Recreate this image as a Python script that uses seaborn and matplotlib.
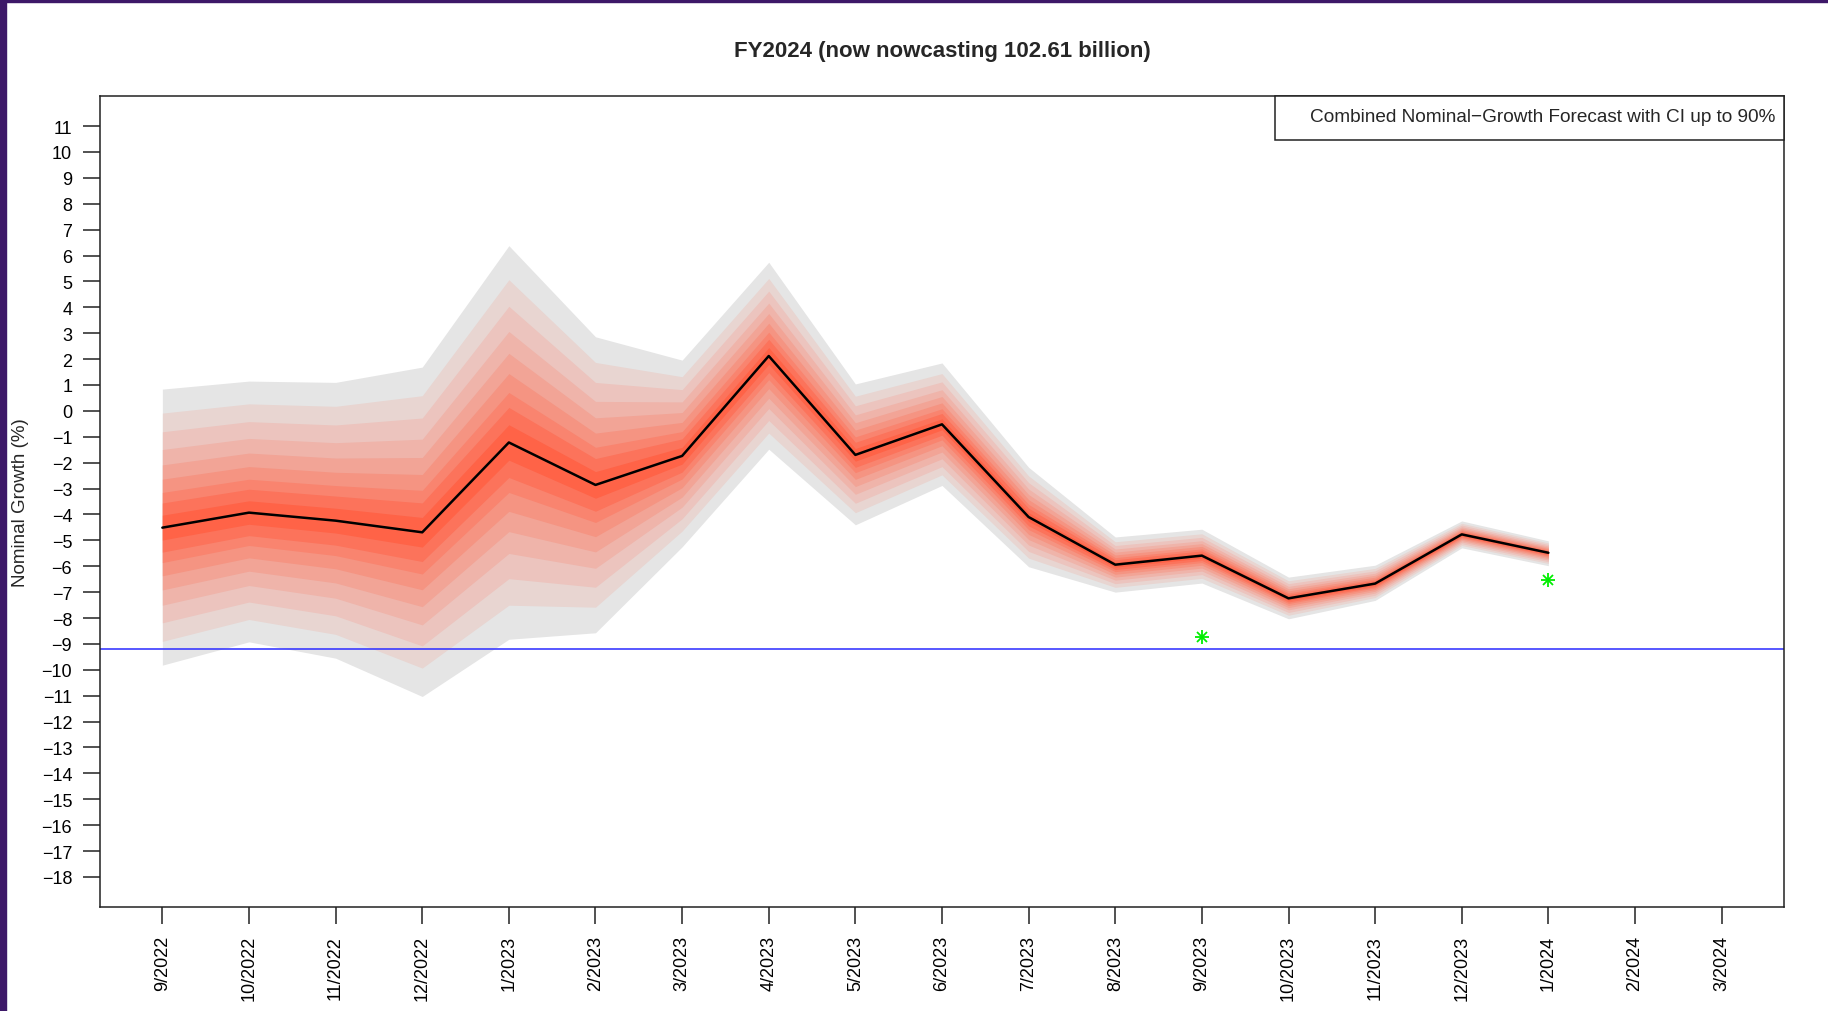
import numpy as np
import pandas as pd
import matplotlib
matplotlib.use("Agg")
import matplotlib.pyplot as plt
import matplotlib.patches as mpatches
import seaborn as sns

# =====================================================
# DATA
# =====================================================

months = [
    "9/2022", "10/2022", "11/2022", "12/2022",
    "1/2023", "2/2023", "3/2023", "4/2023", "5/2023", "6/2023",
    "7/2023", "8/2023", "9/2023", "10/2023", "11/2023", "12/2023",
    "1/2024", "2/2024", "3/2024",
]

# nowcast median, one value per month up to 1/2024
median = [
    -4.51, -3.93, -4.24, -4.69, -1.22, -2.86, -1.74, 2.12, -1.70,
    -0.52, -4.10, -5.94, -5.59, -7.24, -6.67, -4.77, -5.48,
]

# outer edges of the 90% band
upper90 = [
    0.84, 1.15, 1.10, 1.69, 6.38, 2.86, 1.96, 5.74, 1.04,
    1.85, -2.18, -4.87, -4.57, -6.42, -5.96, -4.25, -5.02,
]
lower90 = [
    -9.82, -8.92, -9.55, -11.03, -8.82, -8.57, -5.25, -1.48, -4.40,
    -2.88, -6.02, -7.00, -6.65, -8.03, -7.32, -5.29, -5.98,
]

# CI levels and where each band edge sits, as a share of the 90% half-width
ci_levels = [10, 20, 30, 40, 50, 60, 70, 80, 90]
ci_share = [0.09, 0.178, 0.254, 0.35, 0.453, 0.564, 0.692, 0.827, 1.0]

# released figures (green stars)
obs_months = ["9/2023", "1/2024"]
obs_values = [-8.74, -6.53]

ref_level = -9.2

y_ticks = list(range(-18, 12))

title = "FY2024 (now nowcasting 102.61 billion)"
legend_text = "Combined Nominal\u2212Growth Forecast with CI up to 90%"
y_label = "Nominal Growth (%)"

# =====================================================
# FRAMES
# =====================================================

x_pos = {m: i for i, m in enumerate(months)}

fan = pd.DataFrame({
    "x": np.arange(len(median)),
    "median": median,
    "upper": upper90,
    "lower": lower90,
})

obs = pd.DataFrame({
    "x": [x_pos[m] for m in obs_months],
    "value": obs_values,
})

# =====================================================
# PLOT
# =====================================================

sns.set_theme(style="white")
plt.rcParams["font.family"] = ["Liberation Sans", "DejaVu Sans"]

fig = plt.figure(figsize=(18.28, 10.12), dpi=100)
fig.patch.set_facecolor("white")

# purple screenshot border (left and top)
fig.patches.append(mpatches.Rectangle(
    (0, 0), 6 / 1828, 1, transform=fig.transFigure,
    color="#3d1868", zorder=10))
fig.patches.append(mpatches.Rectangle(
    (0, 1 - 3 / 1012), 1, 3 / 1012, transform=fig.transFigure,
    color="#3d1868", zorder=10))

ax = fig.add_axes([100 / 1828, 1 - 908 / 1012, 1684 / 1828, 811 / 1012])

# fan colours: tomato in the centre, gray90 on the outside
c_in = np.array(matplotlib.colors.to_rgb("tomato"))
c_out = np.array(matplotlib.colors.to_rgb("#e5e5e5"))
n_lv = len(ci_levels)

for i in range(n_lv - 1, -1, -1):
    share = ci_share[i]
    col = c_in + (c_out - c_in) * i / (n_lv - 1)
    up = fan["median"] + share * (fan["upper"] - fan["median"])
    lo = fan["median"] - share * (fan["median"] - fan["lower"])
    ax.fill_between(fan["x"], lo, up, color=col, linewidth=0, zorder=1)

ax.axhline(ref_level, color="#3b3bff", linewidth=1.2, zorder=2)

sns.lineplot(
    data=fan, x="x", y="median", ax=ax,
    color="black", linewidth=1.8, zorder=3,
)

for mk, ms in (("+", 10), ("x", 7.5)):
    ax.plot(
        obs["x"], obs["value"], linestyle="none",
        marker=mk, markersize=ms, markeredgewidth=1.3,
        color="#00ee00", zorder=4,
    )

# axes limits like R (4% padding)
ax.set_xlim(-0.04 * 18, 18 + 0.04 * 18)
ax.set_ylim(-18 - 0.04 * 29, 11 + 0.04 * 29)

ax.set_xticks(range(len(months)))
ax.set_xticklabels(months, rotation=90, fontsize=13)
ax.set_yticks(y_ticks)
ax.set_yticklabels([str(v).replace("-", "\u2212") for v in y_ticks], fontsize=13)

ax.tick_params(
    axis="both", direction="out", length=12, width=1.1,
    color="#222222", labelcolor="black", pad=8,
    bottom=True, left=True,
)

for sp in ax.spines.values():
    sp.set_visible(True)
    sp.set_color("#222222")
    sp.set_linewidth(1.1)

ax.set_xlabel("")
ax.set_ylabel(y_label, fontsize=13.5)
ax.yaxis.set_label_coords(-71 / 1684, 0.5)
ax.grid(False)

# legend box in the top-right corner
ax.add_patch(mpatches.Rectangle(
    (0.6977, 0.9457), 0.3023, 0.0543, transform=ax.transAxes,
    facecolor="white", edgecolor="#222222", linewidth=1.1,
    zorder=5, clip_on=False,
))
ax.text(
    0.995, 0.9745, legend_text, transform=ax.transAxes,
    ha="right", va="center", fontsize=13.7, zorder=6,
)

fig.text(
    942 / 1828, 1 - 51 / 1012, title,
    ha="center", va="center", fontsize=16, fontweight="bold",
)

fig.savefig("out.png", dpi=100)
plt.close(fig)
